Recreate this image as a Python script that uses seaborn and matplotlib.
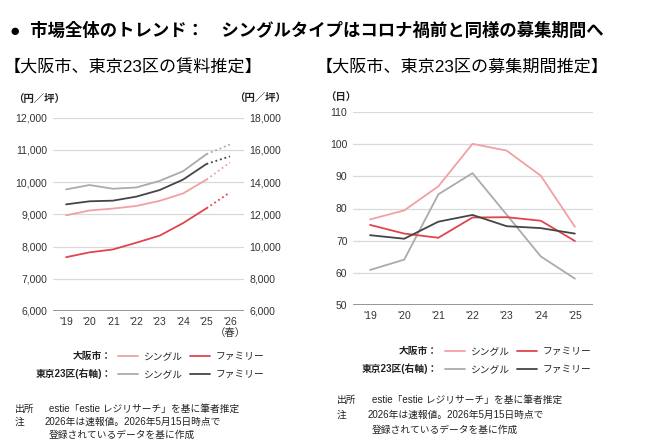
import numpy as np
import pandas as pd
import seaborn as sns
import matplotlib.pyplot as plt

# 賃料（円／坪）
rent_years = ["'19", "'20", "'21", "'22", "'23", "'24", "'25", "'26\n（春）"]
osaka_single_rent = [8970, 9120, 9180, 9260, 9420, 9650, 10080, 10610]
osaka_family_rent = [7670, 7820, 7910, 8120, 8340, 8730, 9190, 9680]
tokyo_single_rent = [13550, 13820, 13590, 13670, 14080, 14680, 15740, 16340]
tokyo_family_rent = [12620, 12810, 12850, 13100, 13510, 14160, 15130, 15600]

# 募集期間（日）
period_years = ["'19", "'20", "'21", "'22", "'23", "'24", "'25"]
osaka_single_days = [76.6, 79.4, 86.9, 100.1, 98.0, 90.2, 74.3]
osaka_family_days = [74.9, 72.2, 70.9, 77.2, 77.3, 76.2, 69.9]
tokyo_single_days = [60.9, 64.1, 84.4, 91.0, 78.1, 65.1, 58.2]
tokyo_family_days = [71.7, 70.6, 75.9, 78.0, 74.5, 73.9, 72.2]

c_os = '#F2A0A3'
c_of = '#E0454D'
c_ts = '#ABABAB'
c_tf = '#454545'
grid_c = '#D9D9D9'
base_c = '#8C8C8C'

sns.set_theme(style='white')
plt.rcParams['font.family'] = ['Liberation Sans', 'Noto Sans CJK JP']

fig = plt.figure(figsize=(6.5, 4.47), dpi=100)
W, H = 650, 447


def add_ax(x0, y0, x1, y1):
    return fig.add_axes([x0 / W, 1 - y1 / H, (x1 - x0) / W, (y1 - y0) / H])


def style(ax):
    for s in ax.spines.values():
        s.set_visible(False)
    ax.tick_params(length=0, labelsize=7.5, colors='#333333', pad=4)
    ax.grid(False)
    ax.set_xlabel('')
    ax.set_ylabel('')


def draw(ax, vals, color, n_solid):
    x = np.arange(len(vals))
    df = pd.DataFrame({'x': x[:n_solid], 'y': vals[:n_solid]})
    sns.lineplot(data=df, x='x', y='y', ax=ax, color=color, lw=1.3)
    if n_solid < len(vals):
        dd = pd.DataFrame({'x': x[n_solid - 1:], 'y': vals[n_solid - 1:]})
        sns.lineplot(data=dd, x='x', y='y', ax=ax, color=color, lw=1.3,
                     linestyle=(0, (1, 1.6)))


# ---- 左：賃料 ----
ax = add_ax(53, 117.7, 244, 311)
for v in range(7000, 12001, 1000):
    ax.axhline(v, color=grid_c, lw=0.9, zorder=0)
ax.axhline(6000, color=base_c, lw=2, zorder=1)
draw(ax, osaka_single_rent, c_os, 7)
draw(ax, osaka_family_rent, c_of, 7)
ax.set_ylim(6000, 12000)
ax.set_xlim(-0.56, 7.6)
ax.set_yticks(range(6000, 12001, 1000))
ax.set_yticklabels([f'{v:,}' for v in range(6000, 12001, 1000)])
ax.set_xticks(range(len(rent_years)))
ax.set_xticklabels(rent_years, va='top', linespacing=1.2)
style(ax)

ax2 = ax.twinx()
draw(ax2, tokyo_single_rent, c_ts, 7)
draw(ax2, tokyo_family_rent, c_tf, 7)
ax2.set_ylim(6000, 18000)
ax2.set_yticks(range(6000, 18001, 2000))
ax2.set_yticklabels([f'{v:,}' for v in range(6000, 18001, 2000)])
style(ax2)

# ---- 右：募集期間 ----
bx = add_ax(353, 112, 593, 305)
for v in range(60, 111, 10):
    bx.axhline(v, color=grid_c, lw=0.9, zorder=0)
bx.axhline(50, color=base_c, lw=2, zorder=1)
draw(bx, osaka_single_days, c_os, 7)
draw(bx, tokyo_single_days, c_ts, 7)
draw(bx, osaka_family_days, c_of, 7)
draw(bx, tokyo_family_days, c_tf, 7)
bx.set_ylim(50, 110)
bx.set_xlim(-0.5, 6.53)
bx.set_yticks(range(50, 111, 10))
bx.set_xticks(range(len(period_years)))
bx.set_xticklabels(period_years)
style(bx)

# ---- テキスト ----
def t(x, y, s, **kw):
    kw.setdefault('fontsize', 7)
    kw.setdefault('color', '#222222')
    fig.text(x / W, 1 - y / H, s, va='center', **kw)


t(10, 30, '●  市場全体のトレンド：　シングルタイプはコロナ禍前と同様の募集期間へ',
  fontsize=12.5, fontweight='bold', color='black')
t(4, 67, '【大阪市、東京23区の賃料推定】', fontsize=12.3, color='black')
t(316, 67, '【大阪市、東京23区の募集期間推定】', fontsize=12.3, color='black')
t(13, 99, '（円／坪）', fontsize=7.5, fontweight='bold')
t(234, 98, '（円／坪）', fontsize=7.5, fontweight='bold')
t(325, 98, '（日）', fontsize=7.5, fontweight='bold')


def legend(xr, y1, y2, xl1, xl2):
    t(xr, y1, '大阪市：', ha='right', fontweight='bold')
    t(xr, y2, '東京23区(右軸)：', ha='right', fontweight='bold')
    for y, cs, cf in ((y1, c_os, c_of), (y2, c_ts, c_tf)):
        fig.add_artist(plt.Line2D([xl1 / W, (xl1 + 20) / W], [1 - y / H] * 2, color=cs, lw=1.3))
        t(xl1 + 26, y, 'シングル')
        fig.add_artist(plt.Line2D([xl2 / W, (xl2 + 20) / W], [1 - y / H] * 2, color=cf, lw=1.3))
        t(xl2 + 26, y, 'ファミリー')


legend(112, 356, 374, 118, 190)
legend(438, 351, 369, 445, 517)


def notes(x0, y0, dy, xt):
    t(x0, y0, '出所')
    t(xt, y0, 'estie「estie レジリサーチ」を基に筆者推定')
    t(x0, y0 + dy, '注')
    t(xt - 4, y0 + dy, '2026年は速報値。2026年5月15日時点で')
    t(xt, y0 + 2 * dy, '登録されているデータを基に作成')


notes(15, 409, 13, 49)
notes(337, 400, 15, 372)

plt.savefig('out.png', dpi=100)
